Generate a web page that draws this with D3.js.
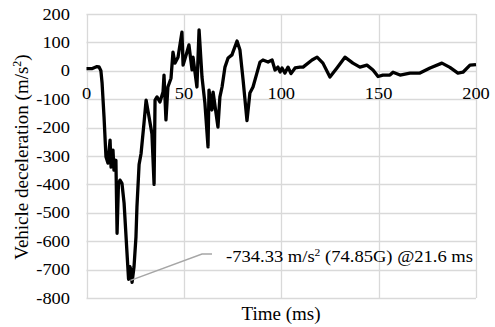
<!DOCTYPE html>
<html>
<head>
<meta charset="utf-8">
<script src="https://cdn.jsdelivr.net/npm/d3@7"></script>
<style>
  html, body { margin: 0; padding: 0; background: #fff; }
  svg { display: block; }
</style>
</head>
<body>
<svg id="chart" width="495" height="327" font-family="'Liberation Serif', 'Times New Roman', Times, 'DejaVu Serif', serif"></svg>
<script>
// ---- data ----
const timeMs = [0, 3, 5.4, 6.4, 7.4, 8.0, 9.0, 10.0, 11.0, 12.1, 12.6, 13.6, 14.1, 15.1, 15.7, 16.4,
  17.2, 18.2, 19.3, 20.8, 21.6, 22.3, 22.8, 23.4, 24.4, 25.4, 25.9, 27.0, 28.0, 29.5, 30.6, 32.1,
  33.6, 34.7, 35.2, 36.2, 37.7, 39.3, 39.8, 40.8, 41.8, 43.4, 44.4, 45.4, 47.0, 49.0, 49.6, 51.6,
  52.6, 54.2, 54.7, 56.7, 57.8, 59.3, 60.8, 62.4, 62.9, 64.4, 65.0, 67.5, 68.5, 69.6, 71.1, 72.7,
  74.7, 75.2, 77.3, 78.8, 80.4, 82.4, 83.9, 85.5, 87.5, 89.1, 90.6, 93.2, 95.3, 96.8, 98.3, 99.4,
  100.4, 101.9, 103.5, 105.0, 107.1, 109.6, 111.2, 115.8, 118.4, 121.4, 125.0, 128.6, 132.7, 136.8,
  140.4, 144.0, 147.1, 149.7, 152.2, 155.8, 157.4, 161.0, 166.1, 171.2, 176.4, 182.5, 186.6, 190.7,
  193.3, 196.9, 200];
const accel = [8, 8, 15, 14, 0, -43, -162, -303, -325, -244, -339, -279, -350, -315, -572, -400,
  -385, -396, -466, -642, -734, -690, -700, -745, -690, -585, -480, -330, -292, -186, -103, -162,
  -222, -400, -103, -92, -110, -75, -15, -173, -57, -26, 66, 27, 48, 136, 20, 66,
  91, 3, 48, -57, 144, -22, -114, -268, -68, -138, -75, -198, -92, -57, 13, 45,
  56, 66, 105, 73, -32, -175, -78, -57, -8, 31, 38, 31, 38, 3, 13, -4,
  10, -8, 13, -10, 10, 13, 13, 38, 48, 27, -22, 10, 48, 27,
  13, 20, 3, -20, -15, -15, -5, -15, -8, -8, 10, 27, 12, -8,
  -5, 20, 22];

const yTicks = [200, 100, 0, -100, -200, -300, -400, -500, -600, -700, -800];
const xTicks = [0, 50, 100, 150, 200];
const peak = { t: 21.6, a: -734.33, g: 74.85 };

// ---- layout ----
const svg = d3.select('#chart');
const plot = { left: 86.5, right: 476, top: 14, bottom: 298 };

const x = d3.scaleLinear().domain([0, 200]).range([plot.left, plot.right]);
const y = d3.scaleLinear().domain([-800, 200]).range([plot.bottom, plot.top]);

const grid = '#d9d9d9';

// text is a bit wider than tall in the picture
function label(g, px, py, str, anchor, size, sx) {
  return g.append('text')
    .attr('transform', `translate(${px},${py}) scale(${sx || 1},1)`)
    .attr('text-anchor', anchor)
    .attr('font-size', size)
    .text(str);
}

// gridlines
svg.append('g').selectAll('line.h')
  .data(yTicks).enter().append('line')
  .attr('x1', plot.left).attr('x2', plot.right)
  .attr('y1', d => Math.round(y(d)) + 0.5).attr('y2', d => Math.round(y(d)) + 0.5)
  .attr('stroke', grid).attr('stroke-width', 1.3);

svg.append('g').selectAll('line.v')
  .data(xTicks).enter().append('line')
  .attr('y1', plot.top).attr('y2', plot.bottom)
  .attr('x1', d => Math.round(x(d)) + 0.5).attr('x2', d => Math.round(x(d)) + 0.5)
  .attr('stroke', grid).attr('stroke-width', 1.3);

// y tick labels
const yl = svg.append('g');
yTicks.forEach(v => label(yl, 70, y(v) + 5.5, String(v), 'end', 16, 1.15));

// x tick labels sit just below the zero line
const xl = svg.append('g');
xTicks.forEach(v => label(xl, x(v), 99, String(v), 'middle', 16, 1.15));

// series
const line = d3.line().x((d, i) => x(timeMs[i])).y(d => y(d));
svg.append('path')
  .datum(accel)
  .attr('d', line)
  .attr('fill', 'none')
  .attr('stroke', '#000')
  .attr('stroke-width', 3.3)
  .attr('stroke-linejoin', 'round');

// peak annotation
svg.append('polyline')
  .attr('points', [[x(peak.t) + 2, y(peak.a) + 1], [202, 254], [212, 254]].map(p => p.join(',')).join(' '))
  .attr('fill', 'none')
  .attr('stroke', '#a6a6a6')
  .attr('stroke-width', 1.5);

const ann = svg.append('text')
  .attr('transform', 'translate(226,262) scale(1.16,1)')
  .attr('font-size', 16);
ann.append('tspan').text(`${peak.a.toFixed(2)} m/s`);
ann.append('tspan').attr('font-size', 10).attr('dy', -6).text('2');
ann.append('tspan').attr('dy', 6).text(` (${peak.g}G) @${peak.t} ms`);

// axis titles
label(svg, 281, 320, 'Time (ms)', 'middle', 19, 1);

const yt = svg.append('text')
  .attr('transform', 'translate(28,157) rotate(-90)')
  .attr('text-anchor', 'middle')
  .attr('font-size', 19);
yt.append('tspan').text('Vehicle deceleration (m/s');
yt.append('tspan').attr('font-size', 12).attr('dy', -7).text('2');
yt.append('tspan').attr('dy', 7).text(')');
</script>
</body>
</html>
